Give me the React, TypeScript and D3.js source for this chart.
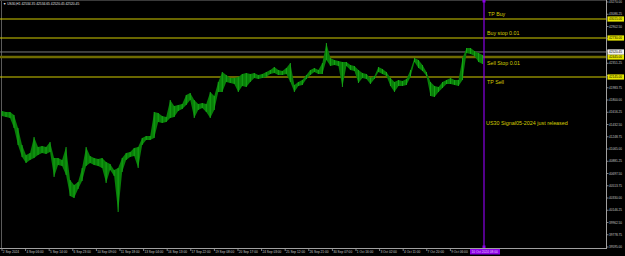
import React from "react";
import * as d3 from "d3";

const W = 625;
const H = 256;

// ---------- data ----------
const header = "US30,H1  42534.35 42534.65 42520.45 42520.45";

// sampled H1 price envelope (highs / lows), equally spaced in time
const highs = [
  41635, 41620, 41620, 41575, 41380, 41125, 40975, 41005, 41245, 41095,
  41110, 41095, 41170, 40930, 40930, 40900, 41095, 40600, 40525, 40570,
  40780, 41095, 40960, 40930, 40915, 40930, 40870, 40840, 40750, 40780,
  40930, 41005, 41020, 41080, 41095, 41230, 41260, 41260, 41620, 41605,
  41560, 41545, 41800, 41710, 41725, 41740, 41875, 41905, 41800, 41740,
  41755, 41740, 41920, 41860, 42070, 42220, 42175, 42130, 42130, 42145,
  42190, 42205, 42190, 42205, 42175, 42190, 42220, 42250, 42295, 42250,
  42235, 42280, 42355, 42025, 42070, 42100, 42175, 42250, 42280, 42250,
  42355, 42655, 42430, 42400, 42385, 42370, 42370, 42325, 42310, 42250,
  42205, 42190, 42130, 42160, 42295, 42265, 42220, 42130, 42070, 42100,
  42085, 42115, 42250, 42430, 42400, 42325, 42220, 42070, 42010, 41995,
  42070, 42100, 42130, 42100, 42100, 42430, 42580, 42580, 42535, 42505,
  42475,
];
const lows = [
  41560, 41545, 41530, 41380, 41125, 40945, 40855, 40900, 40930, 40975,
  41005, 40990, 41020, 40645, 40825, 40810, 40675, 40360, 40330, 40465,
  40585, 40810, 40855, 40825, 40810, 40780, 40555, 40750, 40660, 40120,
  40720, 40900, 40945, 40960, 40780, 41125, 41200, 41200, 41230, 41470,
  41455, 41470, 41530, 41545, 41635, 41665, 41725, 41800, 41530, 41650,
  41680, 41620, 41530, 41650, 41920, 41920, 42070, 42055, 42040, 41920,
  42010, 41995, 42070, 42130, 42115, 42130, 42145, 42190, 42205, 42175,
  42175, 42190, 42070, 41920, 42010, 42025, 42115, 42175, 42220, 42190,
  42190, 42400, 42310, 42325, 42310, 41995, 42310, 42250, 42235, 42055,
  42130, 42115, 42040, 42115, 42220, 42190, 42160, 42010, 41920, 42010,
  42010, 42025, 42145, 42370, 42280, 42235, 42160, 41860, 41845, 41920,
  41980, 42040, 42040, 42025, 42010, 42100, 42505, 42490, 42460, 42370,
  42340,
];
const BARS_PER_SAMPLE = 5.6;
const LAST_BAR = 674;

const timeLabels = [
  "2 Sep 2024", "4 Sep 06:00", "5 Sep 14:00", "6 Sep 23:00", "10 Sep 09:00",
  "11 Sep 18:00", "13 Sep 04:00", "16 Sep 13:00", "17 Sep 22:00", "19 Sep 08:00",
  "20 Sep 17:00", "24 Sep 03:00", "25 Sep 12:00", "26 Sep 21:00", "30 Sep 07:00",
  "1 Oct 16:00", "3 Oct 02:00", "4 Oct 11:00", "7 Oct 20:00", "9 Oct 06:00",
];
const BARS_PER_LABEL = 33;

const priceTicks = [
  43270.0, 43086.25, 42902.5, 42718.75, 42535.0, 42351.25, 42167.5, 41983.75,
  41800.0, 41616.25, 41432.5, 41248.75, 41065.0, 40881.25, 40697.5, 40513.75,
  40330.0, 40146.25, 39962.5, 39778.75, 39595.0,
];

const levelNames = ["TP Buy", "Buy stop 0.01", "Sell Stop 0.01", "TP Sell"];
const levelPrices = [43015.0, 42730.0, 42445.0, 42145.0];
const bidPrice = 42520.45;
const noteText = "US30 Signal05-2024 just released";
const notePrice = 41420;
const vlineLabel = "10 Oct 2024 08:00";

// ---------- layout ----------
const PLOT_LEFT = 1;
const PLOT_RIGHT = 606;
const PLOT_TOP = 0;
const PLOT_BOTTOM = 248;

const YELLOW = "#d2cc00";
const PURPLE = "#8a00e6";
const AXIS_TXT = "#c8c8c8";
const FONT = "'Liberation Sans', Arial, sans-serif";

export default function App() {
  const y = d3.scaleLinear().domain([39580, 43300]).range([PLOT_BOTTOM, PLOT_TOP]);
  const x = d3.scaleLinear().domain([0, LAST_BAR]).range([2, 484]);

  const samples = highs.map((h, i) => ({ bar: i * BARS_PER_SAMPLE, h, l: lows[i] }));
  const area = d3
    .area<{ bar: number; h: number; l: number }>()
    .x((d) => x(d.bar))
    .y0((d) => y(d.l))
    .y1((d) => y(d.h))
    .curve(d3.curveLinear);

  const levelYs = levelPrices.map((p) => y(p));
  const bidY = y(bidPrice);
  const hlYs = [...levelYs, bidY];
  const vx = x(LAST_BAR);

  return (
    <svg
      width={W}
      height={H}
      style={{ position: "absolute", left: 0, top: 0, background: "#000" }}
    >
      <rect x={0} y={0} width={W} height={H} fill="#000" />
      {/* frame */}
      <line x1={PLOT_LEFT + 0.5} x2={PLOT_LEFT + 0.5} y1={0} y2={PLOT_BOTTOM} stroke="#5a5a5a" />
      <line x1={0} x2={PLOT_RIGHT} y1={0.5} y2={0.5} stroke="#3a3a3a" />
      <line x1={PLOT_RIGHT + 0.5} x2={PLOT_RIGHT + 0.5} y1={0} y2={PLOT_BOTTOM + 0.5} stroke="#a0a0a0" />
      <line x1={0} x2={PLOT_RIGHT + 1} y1={PLOT_BOTTOM + 0.5} y2={PLOT_BOTTOM + 0.5} stroke="#a0a0a0" />

      {/* header */}
      <text x={3} y={5.2} fontFamily={FONT} fontSize={3.3} fill="#e0e0e0">
        {"\u25BC " + header}
      </text>

      {/* level lines */}
      {levelYs.map((ly, i) => (
        <line
          key={"lv" + i}
          x1={0}
          x2={PLOT_RIGHT}
          y1={ly}
          y2={ly}
          stroke={i === 2 ? "#6e6a00" : YELLOW}
          strokeWidth={i === 2 ? 2.6 : 1}
        />
      ))}
      <line x1={0} x2={PLOT_RIGHT} y1={bidY} y2={bidY} stroke="#7a7a7a" strokeWidth={1} />

      {/* price series */}
      <path d={area(samples) || ""} fill="#087e08" />
      {samples.map((d, i) => (
        <line
          key={"b" + i}
          x1={x(d.bar)}
          x2={x(d.bar)}
          y1={y(d.h)}
          y2={y(d.l)}
          stroke="#18aa18"
          strokeWidth={0.9}
        />
      ))}

      {/* level labels */}
      <text x={488} y={levelYs[0] - 3} fontFamily={FONT} fontSize={5.3} fill={YELLOW}>{levelNames[0]}</text>
      <text x={487} y={levelYs[1] - 3} fontFamily={FONT} fontSize={5.3} fill={YELLOW}>{levelNames[1]}</text>
      <text x={487} y={levelYs[2] + 7.5} fontFamily={FONT} fontSize={5.3} fill={YELLOW}>{levelNames[2]}</text>
      <text x={487} y={levelYs[3] + 6.5} fontFamily={FONT} fontSize={5.3} fill={YELLOW}>{levelNames[3]}</text>
      <text x={486} y={y(notePrice)} fontFamily={FONT} fontSize={5.4} fill={YELLOW}>{noteText}</text>

      {/* vertical line */}
      <line x1={vx} x2={vx} y1={0} y2={PLOT_BOTTOM} stroke={PURPLE} strokeWidth={1.2} />
      <rect x={vx - 1.5} y={0} width={3} height={2.5} fill={PURPLE} />
      <rect x={vx - 1.5} y={PLOT_BOTTOM - 2.5} width={3} height={2.5} fill={PURPLE} />

      {/* right axis ticks */}
      {priceTicks.map((p, i) => {
        const ty = y(p);
        const hidden = hlYs.some((hy) => Math.abs(hy - ty) < 4.5);
        return (
          <g key={"pt" + i}>
            <line x1={PLOT_RIGHT} x2={PLOT_RIGHT + 2.5} y1={ty} y2={ty} stroke="#a0a0a0" strokeWidth={0.8} />
            {!hidden && (
              <text x={609} y={ty + 1.1} fontFamily={FONT} fontSize={3.1} fill={AXIS_TXT}>
                {p.toFixed(2)}
              </text>
            )}
          </g>
        );
      })}
      {/* highlighted prices */}
      {levelPrices.map((p, i) => (
        <g key={"hp" + i}>
          <rect x={607.5} y={y(p) - 2.6} width={16.5} height={5.2} fill="#e6e600" />
          <text x={609} y={y(p) + 1.1} fontFamily={FONT} fontSize={3.1} fill="#000">
            {p.toFixed(2)}
          </text>
        </g>
      ))}
      <rect x={607.5} y={bidY - 2.6} width={16.5} height={5.2} fill="#f0f0f0" />
      <text x={609} y={bidY + 1.1} fontFamily={FONT} fontSize={3.1} fill="#000">
        {bidPrice.toFixed(2)}
      </text>

      {/* time axis */}
      {timeLabels.map((t, k) => {
        const tx = x(k * BARS_PER_LABEL);
        return (
          <g key={"tl" + k}>
            <line x1={tx} x2={tx} y1={PLOT_BOTTOM} y2={PLOT_BOTTOM + 3} stroke="#a0a0a0" strokeWidth={0.8} />
            <text x={tx + 0.8} y={253} fontFamily={FONT} fontSize={3.2} fill={AXIS_TXT}>
              {t}
            </text>
          </g>
        );
      })}
      <rect x={470} y={PLOT_BOTTOM + 1} width={30} height={5.5} fill={PURPLE} />
      <text x={471.5} y={253} fontFamily={FONT} fontSize={3.2} fill="#e6c8ff">
        {vlineLabel}
      </text>
    </svg>
  );
}
